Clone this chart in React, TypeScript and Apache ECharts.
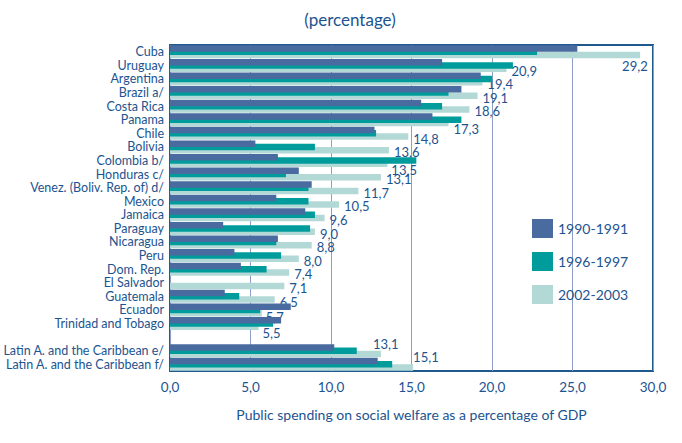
import React, { useEffect, useRef } from "react";
import * as echarts from "echarts";

const categories = [
  "Cuba", "Uruguay", "Argentina", "Brazil a/", "Costa Rica", "Panama", "Chile",
  "Bolivia", "Colombia b/", "Honduras c/", "Venez. (Boliv. Rep. of) d/", "Mexico",
  "Jamaica", "Paraguay", "Nicaragua", "Peru", "Dom. Rep.", "El Salvador",
  "Guatemala", "Ecuador", "Trinidad and Tobago", "",
  "Latin A. and the Caribbean e/", "Latin A. and the Caribbean f/",
];

const seriesNames = ["1990-1991", "1996-1997", "2002-2003"];

const v1990 = [25.3, 16.9, 19.3, 18.1, 15.6, 16.3, 12.7, 5.3, 6.7, 8.0, 8.8, 6.6,
  8.4, 3.3, 6.7, 4.0, 4.4, null, 3.4, 7.5, 6.9, null, 10.2, 12.9];
const v1996 = [22.8, 21.3, 20.0, 17.3, 16.9, 18.1, 12.8, 9.0, 15.3, 7.2, 8.6, 8.6,
  9.0, 8.7, 6.6, 6.9, 6.0, null, 4.3, 5.6, 6.4, null, 11.6, 13.8];
const v2002 = [29.2, 20.9, 19.4, 19.1, 18.6, 17.3, 14.8, 13.6, 13.5, 13.1, 11.7, 10.5,
  9.6, 9.0, 8.8, 8.0, 7.4, 7.1, 6.5, 5.7, 5.5, null, 13.1, 15.1];

const xTicks = [0, 5, 10, 15, 20, 25, 30];

const BLUE = "#1c5490";
const fmt = (v: number) => v.toFixed(1).replace(".", ",");

export default function App() {
  const ref = useRef<HTMLDivElement>(null);
  useEffect(() => {
    if (!ref.current) return;
    const chart = echarts.init(ref.current, undefined, { renderer: "svg" });
    const font = "Lato, 'Open Sans', sans-serif";
    const labelOffsets: Record<number, number[]> = {
      0: [-22, 11],
      5: [1, 6],
      8: [0, 6],
      19: [0, 4],
      20: [0, 6],
      22: [-12, -10],
      23: [-4, -10],
    };
    const lightData = v2002.map((v, i) =>
      labelOffsets[i] ? { value: v, label: { offset: labelOffsets[i] } } : v
    );
    const colors = ["#4a6b9f", "#009c9c", "#b3d9d7"];
    const datas: any[] = [v1990, v1996, lightData];
    const zs = [4, 3, 2];
    chart.setOption({
      animation: false,
      textStyle: { fontFamily: font },
      graphic: [
        {
          type: "text",
          x: 350,
          y: 19,
          style: {
            text: "(percentage)",
            textAlign: "center",
            textVerticalAlign: "middle",
            fontSize: 17,
            fill: BLUE,
            fontFamily: font,
          },
        },
      ],
      grid: {
        left: 168,
        top: 45,
        width: 485,
        height: 326,
        show: true,
        borderColor: "#1f5a8f",
        borderWidth: 2,
        backgroundColor: "transparent",
      },
      legend: {
        orient: "vertical",
        left: 527,
        top: 214,
        itemWidth: 21,
        itemHeight: 19,
        itemGap: 14,
        icon: "rect",
        data: seriesNames,
        textStyle: { fontSize: 14, color: BLUE, fontFamily: font },
      },
      xAxis: {
        type: "value",
        min: 0,
        max: 30,
        interval: xTicks[1] - xTicks[0],
        axisLine: { show: false },
        axisTick: { show: false },
        splitLine: { show: true, lineStyle: { color: "#8e9dc5", width: 1 } },
        axisLabel: {
          formatter: (v: number) => fmt(v),
          color: BLUE,
          fontSize: 13.5,
          margin: 9,
        },
        name: "Public spending on social welfare as a percentage of GDP",
        nameLocation: "middle",
        nameGap: 36,
        nameTextStyle: { color: BLUE, fontSize: 14 },
      },
      yAxis: {
        type: "category",
        inverse: true,
        data: categories,
        axisLine: { show: false },
        axisTick: { show: false },
        axisLabel: { color: BLUE, fontSize: 12.5, margin: 6, interval: 0 },
      },
      series: seriesNames.map((name, k) => ({
        name,
        type: "bar",
        data: datas[k],
        barWidth: 6.5,
        barGap: "-50%",
        z: zs[k],
        itemStyle: { color: colors[k] },
        label:
          k === 2
            ? {
                show: true,
                position: "right",
                distance: 4,
                offset: [1, 2],
                color: BLUE,
                fontSize: 13,
                fontFamily: font,
                formatter: (p: any) => (p.value == null ? "" : fmt(p.value)),
              }
            : { show: false },
      })),
    });
    return () => chart.dispose();
  }, []);
  return (
    <div
      ref={ref}
      style={{ position: "absolute", left: 0, top: 0, width: 682, height: 443 }}
    />
  );
}
